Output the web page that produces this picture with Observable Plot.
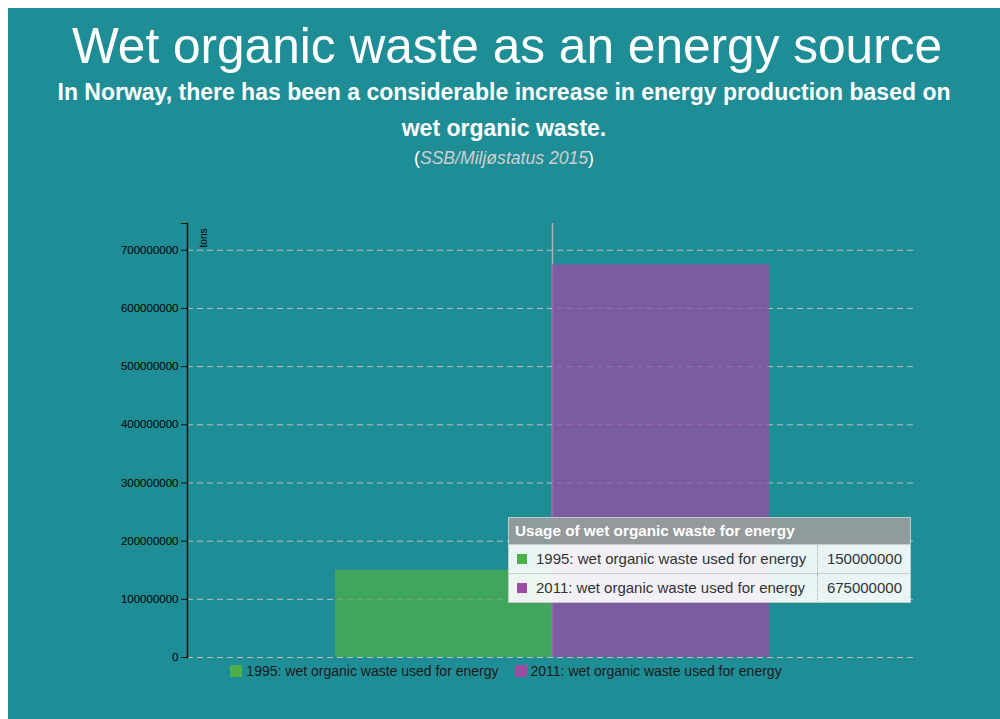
<!DOCTYPE html>
<html>
<head>
<meta charset="utf-8">
<script src="https://cdn.jsdelivr.net/npm/d3@7"></script>
<script src="https://cdn.jsdelivr.net/npm/@observablehq/plot@0.6"></script>
<style>
  html, body { margin: 0; padding: 0; overflow: hidden; background: #fff; }
  body { margin: 8px 0 0 8px; font-family: "Liberation Sans", Arial, Helvetica, sans-serif; }
  #wrap { position: relative; width: 992px; height: 711px; background: #1f8d96; overflow: hidden; }
  #title { margin: 0; padding-top: 10px; text-align: center; color: #fff; font-weight: normal; font-size: 49.6px; line-height: 56px; padding-left: 6px; }
  #subtitle { margin: 0; text-align: center; color: #fff; font-weight: bold; font-size: 23px; line-height: 36px; }
  #caption { margin: 2px 0 0 0; text-align: center; color: #fff; font-size: 17.6px; line-height: 20px; }
  #caption i { color: #cfcfcf; }
  #chart { margin-top: 32px; }
  #chart svg { display: block; }
  #legend { display: flex; justify-content: center; align-items: center; height: 22px; margin-top: -10px; font-size: 14px; color: #1a1a1a; padding-left: 4px; }
  .li { display: flex; align-items: center; margin: 0 8px; }
  .li .sw { width: 12px; height: 12px; margin-right: 4px; }
  #tip { position: absolute; left: 500px; top: 509px; width: 401px; border: 1px solid rgba(210,210,210,0.9); font-size: 15px; color: #333; }
  #tip .hd { height: 26px; line-height: 26px; padding-left: 6px; background: rgba(150,156,156,0.95); color: #fff; font-weight: bold; font-size: 15.3px; }
  #tip .row { display: flex; height: 28px; line-height: 28px; background: rgba(255,255,255,0.9); border-top: 1px solid rgba(200,200,200,0.9); }
  #tip .lab { width: 300px; display: flex; align-items: center; padding-left: 8px; }
  #tip .lab .sw { width: 10px; height: 10px; margin-right: 9px; }
  #tip .val { flex: 1; border-left: 1px dotted #aaa; text-align: right; padding-right: 8px; }
</style>
</head>
<body>
<div id="wrap">
  <h1 id="title"></h1>
  <p id="subtitle"></p>
  <p id="caption"></p>
  <div id="chart"></div>
  <div id="legend"></div>
  <div id="tip"></div>
</div>
<script>
const titleText = "Wet organic waste as an energy source";
const subtitleLines = ["In Norway, there has been a considerable increase in energy production based on", "wet organic waste."];
const sourceText = "SSB/Miljøstatus 2015";
const groupLabel = "Usage of wet organic waste for energy";
const years = ["1995", "2011"];
const seriesLabels = ["1995: wet organic waste used for energy", "2011: wet organic waste used for energy"];
const values = [150000000, 675000000];
const colors = ["#4daf4a", "#984ea3"];
const yTicks = [0, 100000000, 200000000, 300000000, 400000000, 500000000, 600000000, 700000000];
const yMax = 746000000;
const yLabel = "tons";

document.getElementById("title").textContent = titleText;
const sub = document.getElementById("subtitle");
subtitleLines.forEach((l, i) => { if (i) sub.appendChild(document.createElement("br")); sub.appendChild(document.createTextNode(l)); });
const cap = document.getElementById("caption");
cap.appendChild(document.createTextNode("("));
const it = document.createElement("i"); it.textContent = sourceText; cap.appendChild(it);
cap.appendChild(document.createTextNode(")"));

const data = years.map((y, i) => ({year: y, label: seriesLabels[i], value: values[i], color: colors[i]}));

const plot = Plot.plot({
  width: 992,
  height: 470,
  marginLeft: 179,
  marginRight: 83,
  marginTop: 23,
  marginBottom: 13,
  style: {fontFamily: "Liberation Sans, Arial, sans-serif", fontSize: "11.5px", color: "#000", background: "transparent"},
  x: {domain: years, paddingInner: 0, paddingOuter: 0.682, axis: null},
  y: {domain: [0, yMax], axis: null},
  marks: [
    Plot.gridY(yTicks, {stroke: "#bdbdbd", strokeOpacity: 1, strokeDasharray: "6,4"}),
    Plot.ruleX([groupLabel], {x: null, stroke: "#b0b0b0", strokeWidth: 1.5}),
    Plot.barY(data, {x: "year", y: "value", fill: "color", fillOpacity: 0.75}),
    Plot.axisY(yTicks, {label: null, tickFormat: d3.format("d"), tickSize: 6, tickPadding: 3, stroke: "#111", fill: "#000"}),
    Plot.axisY([yMax], {label: null, tickFormat: () => "", tickSize: 6, stroke: "#111"}),
    Plot.frame({anchor: "left", stroke: "#111", strokeWidth: 1.5}),
    Plot.text([yLabel], {frameAnchor: "top-left", text: d => d, rotate: -90, textAnchor: "end", dx: 12, dy: 5, fontSize: 10, fill: "#000"})
  ]
});
document.getElementById("chart").appendChild(plot);

const legend = document.getElementById("legend");
data.forEach(d => {
  const li = document.createElement("div"); li.className = "li";
  const sw = document.createElement("div"); sw.className = "sw"; sw.style.background = d.color;
  const tx = document.createElement("span"); tx.textContent = d.label;
  li.appendChild(sw); li.appendChild(tx); legend.appendChild(li);
});

const tip = document.getElementById("tip");
const hd = document.createElement("div"); hd.className = "hd"; hd.textContent = groupLabel; tip.appendChild(hd);
data.forEach(d => {
  const row = document.createElement("div"); row.className = "row";
  const lab = document.createElement("div"); lab.className = "lab";
  const sw = document.createElement("div"); sw.className = "sw"; sw.style.background = d.color;
  const tx = document.createElement("span"); tx.textContent = d.label;
  lab.appendChild(sw); lab.appendChild(tx);
  const val = document.createElement("div"); val.className = "val"; val.textContent = d3.format("d")(d.value);
  row.appendChild(lab); row.appendChild(val); tip.appendChild(row);
});
</script>
</body>
</html>
